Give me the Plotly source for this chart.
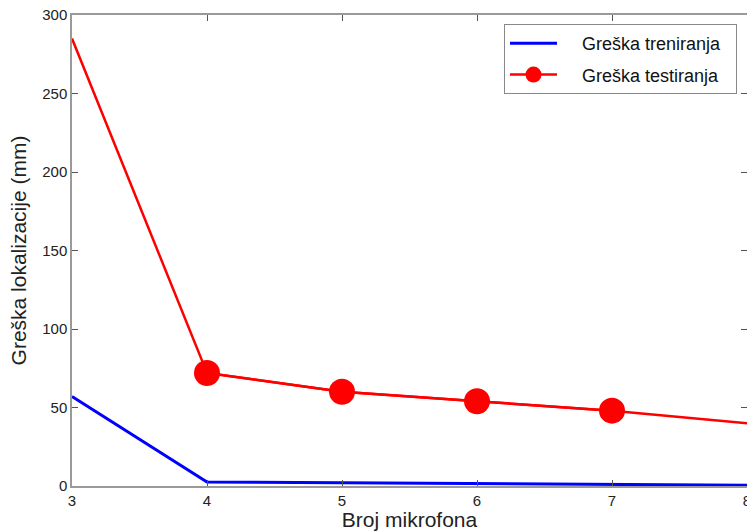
import plotly.graph_objects as go

mics = [3, 4, 5, 6, 7, 8]
train_err = [57, 2.5, 2, 1.5, 1, 0.5]
test_err = [285, 72, 60, 54, 48, 40]
marked_idx = [1, 2, 3, 4]

NB = "\u00a0"
fig = go.Figure()
fig.add_trace(go.Scatter(x=mics, y=train_err, mode="lines",
                         name=NB * 4 + "Greška treniranja" + NB * 2, legendgroup="a",
                         line=dict(color="#0000ff", width=3)))
fig.add_trace(go.Scatter(x=mics, y=test_err, mode="lines", showlegend=False, legendgroup="b",
                         line=dict(color="#ff0000", width=2.5)))
fig.add_trace(go.Scatter(x=[mics[i] for i in marked_idx], y=[test_err[i] for i in marked_idx],
                         mode="lines+markers", name=NB * 4 + "Greška testiranja" + NB * 2,
                         legendgroup="b",
                         line=dict(color="#ff0000", width=2.5),
                         marker=dict(color="#ff0000", size=26)))

FONT = "Liberation Sans, Arial"
axis_common = dict(showline=True, linecolor="#9a9a9a", linewidth=1.5, mirror="ticks",
                   ticks="inside", ticklen=6, tickcolor="#555555", showgrid=False,
                   zeroline=False, automargin=False, ticklabeloverflow="allow",
                   tickfont=dict(family=FONT, size=15, color="#222"))

fig.update_layout(
    width=747, height=531,
    margin=dict(l=72, r=0, t=15, b=45),
    plot_bgcolor="white", paper_bgcolor="white",
    xaxis=dict(range=[3, 8], tickvals=mics, ticklabelstandoff=0,
               title=dict(text="Broj mikrofona", standoff=0,
               font=dict(family=FONT, size=21, color="#222")), **axis_common),
    yaxis=dict(range=[0, 300], tickvals=[0, 50, 100, 150, 200, 250, 300], ticklabelstandoff=0,
               title=dict(text="Greška lokalizacije (mm)", standoff=10,
               font=dict(family=FONT, size=21, color="#222")), **axis_common),
    legend=dict(x=0.64, y=0.981, xanchor="left", yanchor="top",
                bordercolor="#888888", borderwidth=1, bgcolor="white",
                font=dict(family=FONT, size=18, color="#111"),
                itemwidth=47, tracegroupgap=5),
    showlegend=True,
)

fig.write_html("out.html", config={"displayModeBar": False},
               post_script="document.body.style.margin='0';document.body.style.overflow='hidden';")
